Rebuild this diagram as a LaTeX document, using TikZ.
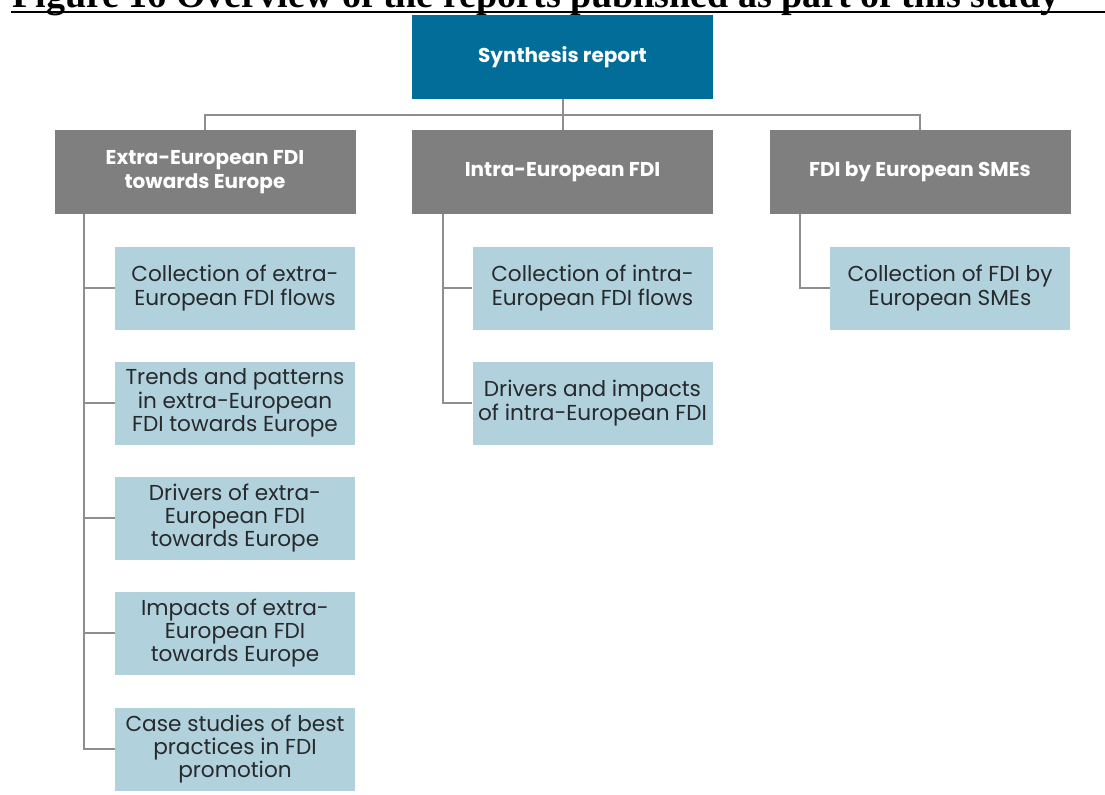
\documentclass[tikz,border=0pt]{standalone}
\usepackage{fontspec}
\setmainfont{Poppins}
\newfontfamily\headfont{Liberation Serif}
\usepackage{tikz}

\definecolor{synblue}{HTML}{026D99}
\definecolor{topgray}{HTML}{7F7F7F}
\definecolor{subblue}{HTML}{B1D1DC}
\definecolor{linkgray}{HTML}{8E8E8E}
\definecolor{subtext}{HTML}{262A2C}

\tikzset{
  topbox/.style={fill=topgray, text=white, minimum width=150.5pt, minimum height=42pt,
    align=center, inner sep=0pt, font=\bfseries\fontsize{10}{12}\selectfont},
  subbox/.style={fill=subblue, text=subtext, minimum width=120pt, minimum height=41.5pt,
    align=center, inner sep=0pt, font=\fontsize{10.8}{11.6}\selectfont},
  link/.style={draw=linkgray, line width=1pt}
}

\begin{document}
\begin{tikzpicture}[x=0.5pt, y=-0.5pt]
    \useasboundingbox (0,0) rectangle (1105,794);
    % caption, cut off at the top
    \node[anchor=base west, inner sep=0pt, font=\headfont\bfseries\fontsize{19}{22}\selectfont] (cap) at (12,7)
      {Figure 16 Overview of the reports published as part of this study};
    \draw[line width=1pt] (11,12) -- (1105,12);

    % top level
    \node[topbox, fill=synblue] (syn) at (562.5,57) {Synthesis report};
    \node[topbox] (ext) at (205,172) {Extra-European FDI\\towards Europe};
    \node[topbox] (intra) at (562.5,172) {Intra-European FDI};
    \node[topbox] (sme) at (920,172) {FDI by European SMEs};

    % reports under each study
    \node[subbox] (e1) at (235,288) {Collection of extra-\\European FDI flows};
    \node[subbox] (e2) at (235,403) {Trends and patterns\\in extra-European\\FDI towards Europe};
    \node[subbox] (e3) at (235,518) {Drivers of extra-\\European FDI\\towards Europe};
    \node[subbox] (e4) at (235,633) {Impacts of extra-\\European FDI\\towards Europe};
    \node[subbox] (e5) at (235,749) {Case studies of best\\practices in FDI\\promotion};
    \node[subbox] (i1) at (592.5,288) {Collection of intra-\\European FDI flows};
    \node[subbox] (i2) at (592.5,403) {Drivers and impacts\\of intra-European FDI};
    \node[subbox] (s1) at (950,288) {Collection of FDI by\\European SMEs};

    % connectors
    \coordinate (bus) at (562.5,115);
    \draw[link] (syn) -- (intra);
    \draw[link] (ext.north) |- (bus) -| (sme.north);
    \coordinate (extspine) at (84,214);
    \coordinate (intraspine) at (443,214);
    \coordinate (smespine) at (800,214);
    \foreach \n in {e1,e2,e3,e4,e5}
      \draw[link] (extspine) |- (\n.west);
    \foreach \n in {i1,i2}
      \draw[link] (intraspine) |- (\n.west);
    \draw[link] (smespine) |- (s1.west);
\end{tikzpicture}
\end{document}
